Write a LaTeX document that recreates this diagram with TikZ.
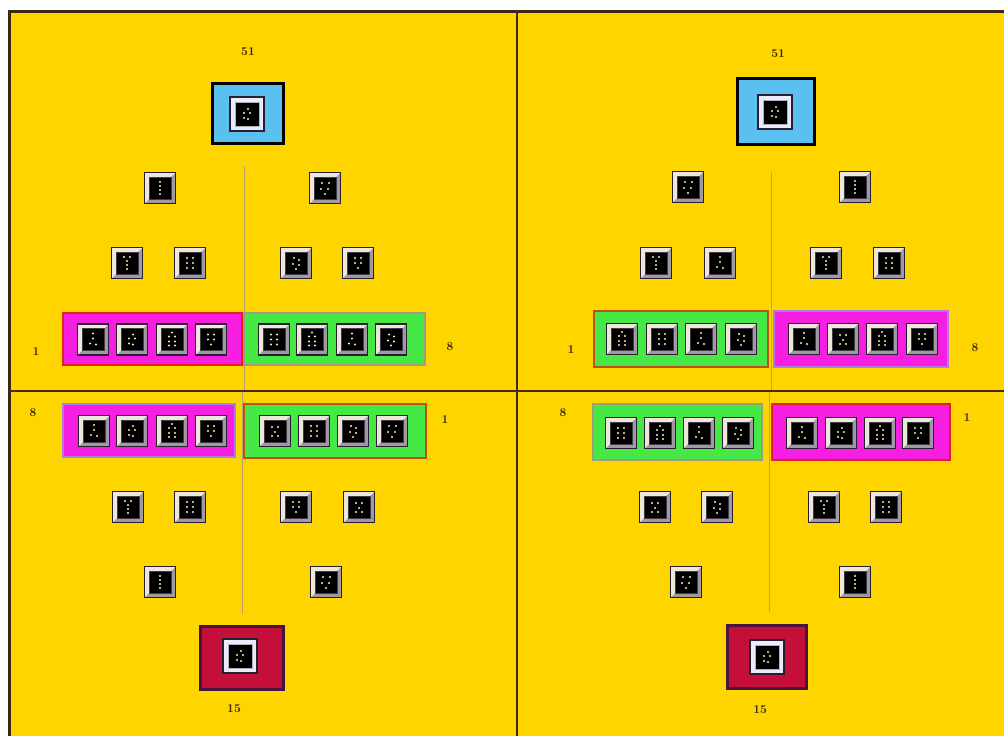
\documentclass[tikz,border=0pt]{standalone}
\usetikzlibrary{calc}
\definecolor{bgyellow}{RGB}{255,213,0}
\definecolor{frameline}{RGB}{60,40,20}
\definecolor{divline}{RGB}{70,40,30}
\definecolor{thinline}{RGB}{185,160,105}
\definecolor{skyblue}{RGB}{90,192,240}
\definecolor{mag}{RGB}{245,30,225}
\definecolor{grn}{RGB}{70,232,70}
\definecolor{crimson}{RGB}{196,16,56}
\definecolor{darkpurple}{RGB}{70,20,60}
\definecolor{redline}{RGB}{225,35,30}
\definecolor{grayline}{RGB}{165,155,125}
\definecolor{orangeline}{RGB}{190,80,25}
\definecolor{lavline}{RGB}{175,120,235}
\definecolor{dieframe}{RGB}{160,152,165}
\definecolor{dielight}{RGB}{238,232,218}
\definecolor{dieedge}{RGB}{40,30,48}
\definecolor{dotc}{RGB}{248,240,190}
\definecolor{labelc}{RGB}{55,35,15}
\tikzset{
  die/.style={minimum size=31pt, inner sep=0pt, fill=dieframe, draw=dieedge, line width=1.4pt,
    path picture={\fill[dielight] (path picture bounding box.north west) -- (path picture bounding box.north east) -- (path picture bounding box.south west) -- cycle;}},
  dieface/.style={minimum size=22pt, inner sep=0pt, fill=black, draw=dieedge!70!gray, line width=0.6pt},
  bigdie/.style={minimum size=34pt, inner sep=0pt, fill=white!92!blue, draw=dieedge, line width=1.2pt},
  bigface/.style={minimum size=24pt, inner sep=0pt, fill=black, draw=gray!60, line width=1pt},
  magbox/.style={minimum width=#1, inner sep=0pt, fill=mag, line width=2.2pt},
  grnbox/.style={minimum width=#1, inner sep=0pt, fill=grn, line width=2.2pt},
  bluebox/.style={inner sep=0pt, fill=skyblue, draw=black, line width=3pt},
  redbox/.style={inner sep=0pt, fill=crimson, draw=darkpurple, line width=3pt},
  lab/.style={inner sep=0pt, text=labelc, font=\fontsize{12}{13}\selectfont\bfseries},
  thin/.style={draw=thinline, line width=1pt},
}
\newcommand\dieat[3]{%
  \node[die] (#1) at (#2) {};
  \node[dieface] (#1f) at (#1.center) {};
  \foreach \a/\b in #3 {\fill[dotc] ($(#1.center)+(\a,\b)$) circle (1.1pt);}
}
\newcommand\bigdieat[3]{%
  \node[bigdie] (#1) at (#2) {};
  \node[bigface] (#1f) at (#1.center) {};
  \foreach \a/\b in #3 {\fill[dotc] ($(#1.center)+(\a,\b)$) circle (1.1pt);}
}
\def\pA{0/-6,0/-2,0/2,0/6}
\def\pB{-3/-5,4/-5,-4/1,3/1,0/6}
\def\pC{-3/-6,3/-6,0/-2,0/2,0/6}
\def\pD{0/-7,-3/-3,3/-3,-3/2,3/2,-3/6,3/6}
\def\pE{-3/-5,3/-5,-3/0,3/0,-3/5,3/5}
\def\pF{0/-6,0/-1,-3/4,3/5}
\def\pG{-3/-5,3/-5,-3/0,3/0,0/5}
\def\pH{-2/-5,3/-3,-3/1,3/2,0/6}
\def\pI{1/-5,-3/-1,3/-1,-3/4,1/5}
\def\pJ{-3/-4,3/-4,0/1,-3/5,3/5}
\begin{document}
\begin{tikzpicture}[x=1pt,y=-1pt]
\useasboundingbox (0,0) rectangle (1004,736);
\fill[white] (0,0) rectangle (1004,736);
\fill[bgyellow] (9,11) rectangle (1004,736);
\draw[frameline, line width=3pt] (9,736) -- (9,11) -- (1004,11);
% quadrant dividers
\coordinate (vt) at (517,11); \coordinate (vb) at (517,736);
\coordinate (hl) at (9,391); \coordinate (hr) at (1004,391);
\draw[divline, line width=1.6pt] (vt) -- (vb);
\draw[divline, line width=1.6pt] (hl) -- (hr);
% thin central lines
\coordinate (tla) at (244,166); \coordinate (tlb) at (244,390);
\coordinate (tra) at (771,172); \coordinate (trb) at (771,390);
\coordinate (bla) at (242,392); \coordinate (blb) at (242,614);
\coordinate (bra) at (769,392); \coordinate (brb) at (769,612);
\draw[thin] (tla) -- (tlb);
\draw[thin] (tra) -- (trb);
\draw[thin] (bla) -- (blb);
\draw[thin] (bra) -- (brb);

% ================= TOP LEFT =================
\node[lab] (tl51) at (248,52) {51};
\node[bluebox, minimum width=71pt, minimum height=60pt] (tlblue) at (247.5,113) {};
\bigdieat{tlbd}{247,114}{\pI}
\dieat{tlr1a}{160,188}{\pA}
\dieat{tlr1b}{325,188}{\pB}
\dieat{tlr2a}{127,263}{\pC}
\dieat{tlr2b}{190,263}{\pE}
\dieat{tlr2c}{296,263}{\pH}
\dieat{tlr2d}{358,263}{\pG}
\node[magbox=179pt, minimum height=52pt, draw=redline] (tlmag) at (152.5,339) {};
\node[grnbox=181pt, minimum height=52pt, draw=grayline] (tlgrn) at (334.5,339) {};
\dieat{tlm1}{93,339.5}{\pF}
\dieat{tlm2}{132,339.5}{\pI}
\dieat{tlm3}{172,339.5}{\pD}
\dieat{tlm4}{211,339.5}{\pG}
\dieat{tlg1}{274,339.5}{\pE}
\dieat{tlg2}{312,339.5}{\pD}
\dieat{tlg3}{352,339.5}{\pF}
\dieat{tlg4}{391,339.5}{\pH}
\node[lab] (tl1) at (36,352) {1};
\node[lab] (tl8) at (450,347) {8};

% ================= TOP RIGHT =================
\node[lab] (tr51) at (778,54) {51};
\node[bluebox, minimum width=77pt, minimum height=66pt] (trblue) at (775.5,111) {};
\bigdieat{trbd}{775,112}{\pI}
\dieat{trr1a}{688,187}{\pB}
\dieat{trr1b}{855,187}{\pA}
\dieat{trr2a}{656,263}{\pC}
\dieat{trr2b}{720,263}{\pF}
\dieat{trr2c}{826,263}{\pC}
\dieat{trr2d}{889,263}{\pE}
\node[grnbox=174pt, minimum height=56pt, draw=orangeline] (trgrn) at (681,339) {};
\node[magbox=174pt, minimum height=56pt, draw=lavline] (trmag) at (861,339) {};
\dieat{trg1}{622,339}{\pD}
\dieat{trg2}{662,339}{\pE}
\dieat{trg3}{701,339}{\pF}
\dieat{trg4}{741,339}{\pH}
\dieat{trm1}{804,339}{\pF}
\dieat{trm2}{843,339}{\pJ}
\dieat{trm3}{882,339}{\pD}
\dieat{trm4}{922,339}{\pG}
\node[lab] (tr1) at (571,350) {1};
\node[lab] (tr8) at (975,348) {8};

% ================= BOTTOM LEFT =================
\node[magbox=172pt, minimum height=53pt, draw=lavline] (blmag) at (149,430.5) {};
\node[grnbox=182pt, minimum height=54pt, draw=orangeline] (blgrn) at (335,431) {};
\dieat{blm1}{94,431}{\pF}
\dieat{blm2}{132,431}{\pI}
\dieat{blm3}{172,431}{\pD}
\dieat{blm4}{211,431}{\pG}
\dieat{blg1}{275,431}{\pJ}
\dieat{blg2}{314,431}{\pE}
\dieat{blg3}{353,431}{\pH}
\dieat{blg4}{392,431}{\pB}
\node[lab] (bl8) at (33,413) {8};
\node[lab] (bl1) at (445,420) {1};
\dieat{blr2a}{128,507}{\pC}
\dieat{blr2b}{190,507}{\pE}
\dieat{blr2c}{296,507}{\pG}
\dieat{blr2d}{359,507}{\pJ}
\dieat{blr1a}{160,582}{\pA}
\dieat{blr1b}{326,582}{\pB}
\node[redbox, minimum width=83pt, minimum height=63pt] (blred) at (241.5,657.5) {};
\bigdieat{blbd}{240,656}{\pI}
\node[lab] (bl15) at (234,709) {15};

% ================= BOTTOM RIGHT =================
\node[grnbox=169pt, minimum height=56pt, draw=grayline] (brgrn) at (677.5,432) {};
\node[magbox=178pt, minimum height=56pt, draw=redline] (brmag) at (861,432) {};
\dieat{brg1}{621,433}{\pE}
\dieat{brg2}{660,433}{\pD}
\dieat{brg3}{699,433}{\pF}
\dieat{brg4}{738,433}{\pH}
\dieat{brm1}{802,433}{\pF}
\dieat{brm2}{841,433}{\pI}
\dieat{brm3}{880,433}{\pD}
\dieat{brm4}{918,433}{\pG}
\node[lab] (br8) at (563,413) {8};
\node[lab] (br1) at (967,418) {1};
\dieat{brr2a}{655,507}{\pJ}
\dieat{brr2b}{717,507}{\pH}
\dieat{brr2c}{824,507}{\pC}
\dieat{brr2d}{886,507}{\pE}
\dieat{brr1a}{686,582}{\pB}
\dieat{brr1b}{855,582}{\pA}
\node[redbox, minimum width=79pt, minimum height=63pt] (brred) at (766.5,656.5) {};
\bigdieat{brbd}{767,657}{\pI}
\node[lab] (br15) at (760,710) {15};
\end{tikzpicture}
\end{document}
